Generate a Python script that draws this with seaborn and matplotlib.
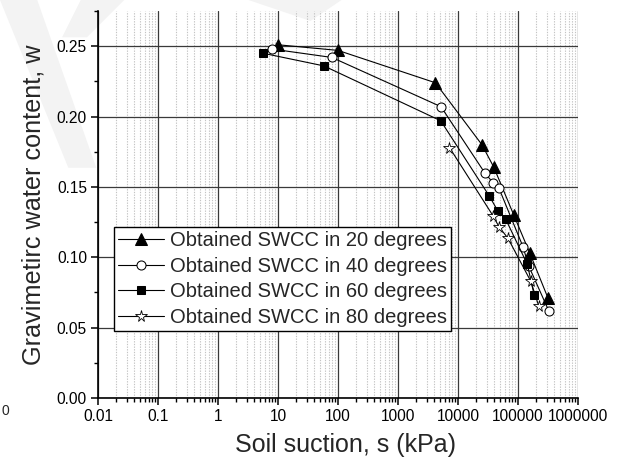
import numpy as np
import pandas as pd
import matplotlib
matplotlib.use("Agg")
import matplotlib.pyplot as plt
from matplotlib.patches import Polygon
from matplotlib.ticker import FixedLocator, LogLocator, MultipleLocator, NullFormatter
import seaborn as sns

# suction (kPa) and gravimetric water content
suction_20 = [10, 100, 4200, 25000, 39500, 85000, 157000, 316000]
water_20 = [0.251, 0.247, 0.224, 0.180, 0.164, 0.130, 0.103, 0.071]

suction_40 = [7.8, 79, 5200, 27900, 38300, 48200, 121000, 150000, 325000]
water_40 = [0.248, 0.242, 0.207, 0.160, 0.153, 0.149, 0.1075, 0.094, 0.062]

suction_60 = [5.6, 58, 5150, 33000, 46000, 62400, 143000, 185000]
water_60 = [0.245, 0.236, 0.197, 0.1437, 0.133, 0.127, 0.095, 0.0735]

suction_80 = [7200, 38300, 48200, 68000, 163000, 221000]
water_80 = [0.178, 0.1295, 0.1217, 0.1135, 0.083, 0.0655]

labels = ["Obtained SWCC in 20 degrees", "Obtained SWCC in 40 degrees",
          "Obtained SWCC in 60 degrees", "Obtained SWCC in 80 degrees"]

xtick_values = [0.01, 0.1, 1, 10, 100, 1000, 10000, 100000, 1000000]
xtick_labels = ["0.01", "0.1", "1", "10", "100", "1000", "10000", "100000", "1000000"]

sns.set_style("white")
plt.rcParams["font.family"] = ["Liberation Sans", "DejaVu Sans"]

fig = plt.figure(figsize=(6.21, 4.66), dpi=100)

# faint watermark in the upper left corner, kept behind everything
wm = dict(closed=True, transform=fig.transFigure, facecolor="#f3f3f3",
          edgecolor="none", zorder=-5)
fig.patches.append(Polygon([(0.0, 1.0), (0.06, 1.0), (0.155, 0.64), (0.11, 0.64)], **wm))
fig.patches.append(Polygon([(0.13, 1.0), (0.2, 1.0), (0.14, 0.92), (0.1, 0.92)], **wm))
fig.patches.append(Polygon([(0.4, 1.0), (0.55, 1.0), (0.5, 0.955)], **wm))

ax = fig.add_axes([0.1578, 0.1459, 0.773, 0.8305])
ax.patch.set_alpha(0)

styles = [
    dict(marker="^", markersize=8.5, markerfacecolor="black", markeredgecolor="black"),
    dict(marker="o", markersize=6.5, markerfacecolor="white", markeredgecolor="black"),
    dict(marker="s", markersize=5.5, markerfacecolor="black", markeredgecolor="black"),
    dict(marker="*", markersize=8.5, markerfacecolor="white", markeredgecolor="black",
         markeredgewidth=0.6),
]
series = [(suction_20, water_20), (suction_40, water_40),
          (suction_60, water_60), (suction_80, water_80)]

for (s, w), lab, st in zip(series, labels, styles):
    df = pd.DataFrame({"suction": s, "water": w})
    sns.lineplot(data=df, x="suction", y="water", ax=ax, sort=False, estimator=None,
                 color="black", linewidth=0.8, label=lab, zorder=3, **st)

ax.set_xscale("log")
ax.set_xlim(0.01, 1000000)
ax.set_ylim(0, 0.275)

ax.xaxis.set_major_locator(FixedLocator(xtick_values))
ax.set_xticklabels(xtick_labels)
ax.xaxis.set_minor_locator(LogLocator(base=10, subs=np.arange(2, 10), numticks=100))
ax.xaxis.set_minor_formatter(NullFormatter())
ax.yaxis.set_major_locator(MultipleLocator(0.05))
ax.yaxis.set_minor_locator(MultipleLocator(0.025))
ax.yaxis.set_major_formatter(plt.FormatStrFormatter("%.2f"))

ax.grid(True, which="major", color="#3a3a3a", linewidth=0.9, zorder=1)
ax.grid(True, which="minor", axis="x", color="#c4c4c4", linewidth=0.8,
        linestyle=(0, (1.2, 1.2)), zorder=1)
ax.set_axisbelow(True)

for side in ["top", "right"]:
    ax.spines[side].set_visible(False)
for side in ["left", "bottom"]:
    ax.spines[side].set_color("black")
    ax.spines[side].set_linewidth(1.2)

ax.tick_params(which="major", direction="out", length=5, width=1.1, labelsize=11.2,
               colors="black", pad=3)
ax.tick_params(which="minor", direction="out", length=3, width=1.0, colors="black")
ax.tick_params(axis="x", which="both", bottom=True)
ax.tick_params(axis="y", which="both", left=True)

ax.set_xlabel("Soil suction, s (kPa)", fontsize=18)
ax.set_ylabel("Gravimetirc water content, w", fontsize=18.2)
ax.xaxis.set_label_coords(0.515, -0.09)
ax.xaxis.label.set_va("top")
ax.yaxis.set_label_coords(-0.11, 0.5)

leg = ax.legend(loc="upper left", bbox_to_anchor=(0.033, 0.442), fontsize=14.5,
                frameon=True, fancybox=False, borderpad=0.2, borderaxespad=0,
                handlelength=2.3, handletextpad=0.3, labelspacing=0.33)
leg.get_frame().set_edgecolor("black")
leg.get_frame().set_linewidth(1.0)
leg.get_frame().set_facecolor("white")
leg.get_frame().set_alpha(1)
leg.set_zorder(5)

# partly visible tick label at the far left edge of the source image
fig.text(0.009, 0.118, "0", fontsize=10, ha="center", va="center")

fig.savefig("out.png", dpi=100)
